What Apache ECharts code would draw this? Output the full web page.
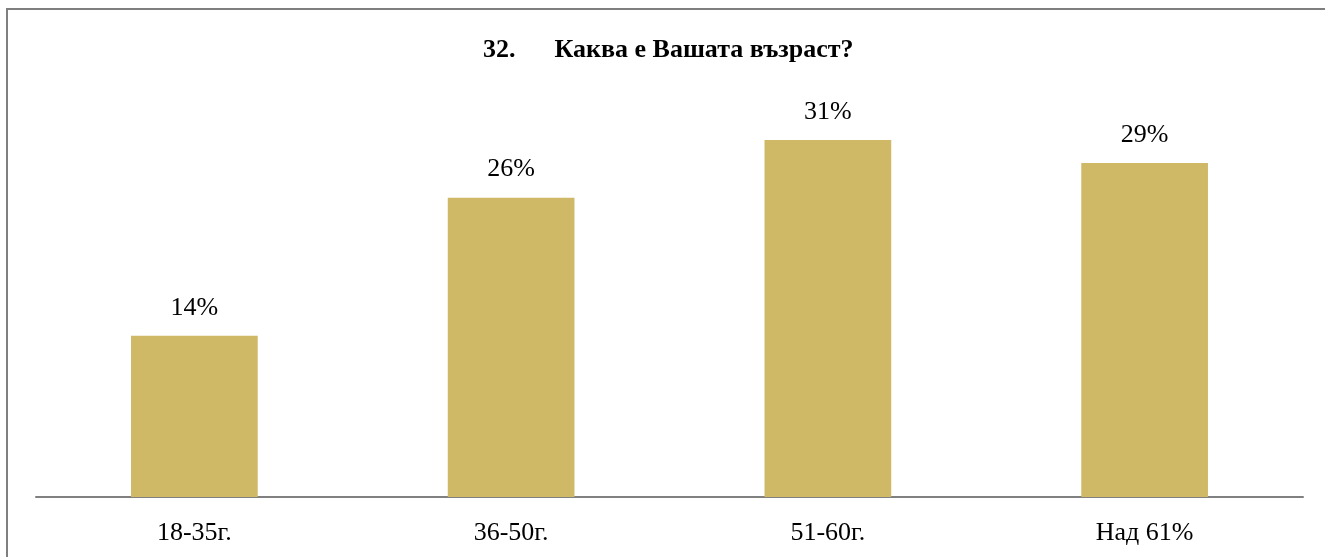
<!DOCTYPE html>
<html lang="bg">
<head>
    <meta charset="UTF-8">
    <title>Каква е Вашата възраст?</title>
    <style>
        html, body { margin: 0; padding: 0; background: #fff; }
        #frame {
            position: absolute; left: 6px; top: 8px;
            width: 1340px; height: 570px;
            border: 2px solid #7f7f7f; box-sizing: border-box;
        }
        #main { position: absolute; left: 0; top: 0; width: 1325px; height: 557px; }
    </style>
</head>
<body>
    <div id="frame"></div>
    <div id="main"></div>
    <script src="https://cdn.jsdelivr.net/npm/echarts@6/dist/echarts.min.js"></script>
    <script>
        var chartTitle = '32.      Каква е Вашата възраст?';
        var categories = ['18-35г.', '36-50г.', '51-60г.', 'Над 61%'];
        var shares = [14, 26, 31, 29];

        var myChart = echarts.init(document.getElementById('main'));
        var serif = '"Liberation Serif", "Times New Roman", serif';

        var option = {
            animation: false,
            title: {
                text: chartTitle,
                left: 478,
                top: 32,
                textStyle: { fontFamily: serif, fontSize: 26, fontWeight: 'bold', color: '#000' }
            },
            grid: { left: 36, right: 22, top: 94, bottom: 60 },
            xAxis: {
                type: 'category',
                data: categories,
                axisLine: { lineStyle: { color: '#808080', width: 2 } },
                axisTick: { show: false },
                axisLabel: { fontFamily: serif, fontSize: 26, color: '#000', margin: 23 }
            },
            yAxis: {
                type: 'value',
                min: 0,
                max: 35,
                show: false,
                splitLine: { show: false }
            },
            series: [{
                type: 'bar',
                data: shares,
                barWidth: '40%',
                itemStyle: { color: '#CFB967' },
                label: {
                    show: true,
                    position: 'top',
                    distance: 15,
                    formatter: '{c}%',
                    fontFamily: serif,
                    fontSize: 26,
                    color: '#000'
                }
            }]
        };

        myChart.setOption(option);
    </script>
</body>
</html>
